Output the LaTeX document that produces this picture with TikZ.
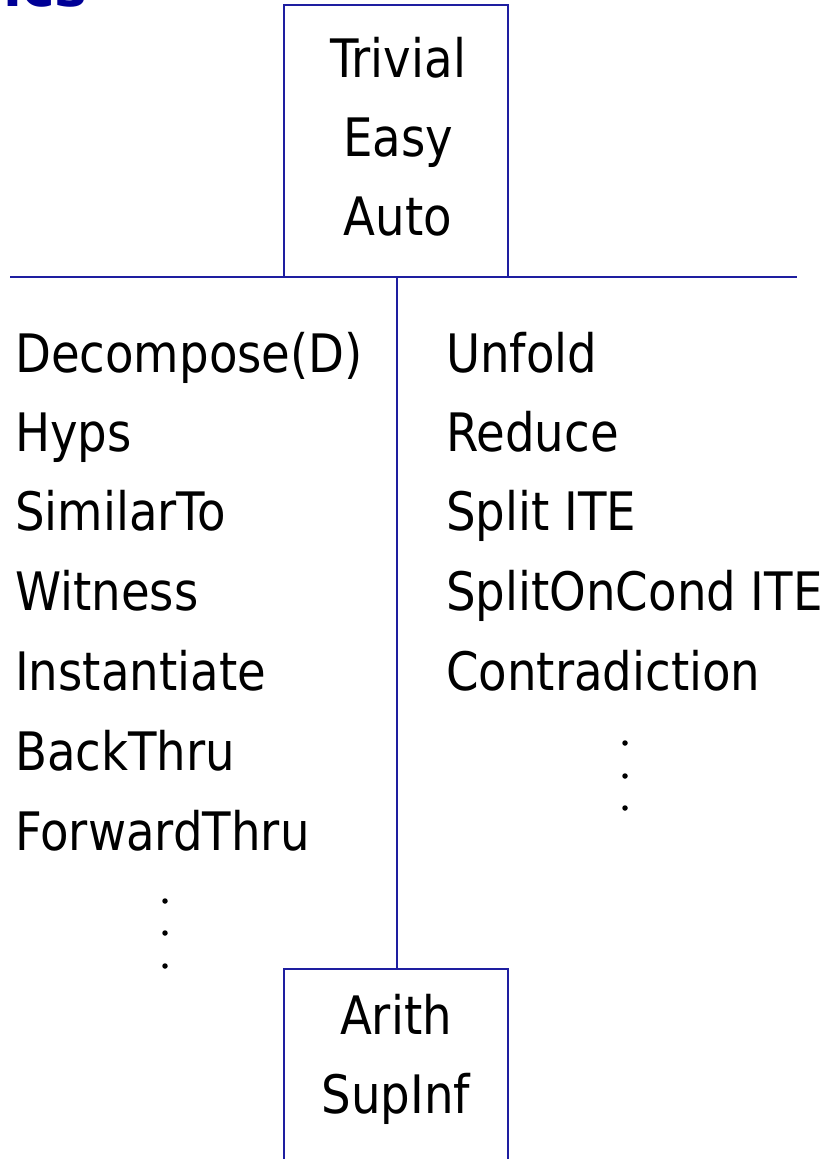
\documentclass[tikz,border=0pt]{standalone}
\usepackage{fontspec}
\newfontfamily\tah[FakeStretch=0.88]{DejaVu Sans}
\newfontfamily\tahb{DejaVu Sans Bold}
\definecolor{linecol}{RGB}{30,30,160}
\definecolor{titlecol}{RGB}{0,0,150}
\begin{document}
\begin{tikzpicture}[x=1pt,y=-1pt,
  lbl/.style={inner sep=0pt,font=\tah\fontsize{53}{60}\selectfont,text=black},
  boxst/.style={draw=linecol,line width=1.8pt,rectangle,inner sep=0pt},
  conn/.style={draw=linecol,line width=1.8pt},
  dotst/.style={circle,fill=black,inner sep=0pt,minimum size=5.5pt}]
\useasboundingbox (0,0) rectangle (838,1159);
% partial title
\node[inner sep=0pt,anchor=base west,font=\tahb\fontsize{55}{60}\selectfont,text=titlecol] (title) at (3,6) {ics};
% boxes
\node[boxst,minimum width=224pt,minimum height=272pt] (topbox) at (396,141) {};
\node[boxst,minimum width=224pt,minimum height=260pt] (botbox) at (396,1099) {};
% lines
\coordinate (hl) at (10,277);
\coordinate (hr) at (797,277);
\coordinate (junc) at (397,277);
\draw[conn] (hl) -- (hr);
\draw[conn] (junc) -- (junc |- botbox.north);
% top box text
\node[lbl,anchor=base] (trivial) at (398,77) {Trivial};
\node[lbl,anchor=base] (easy) at (398,156) {Easy};
\node[lbl,anchor=base] (auto) at (398,235) {Auto};
% bottom box text
\node[lbl,anchor=base] (arith) at (396,1034) {Arith};
\node[lbl,anchor=base] (supinf) at (396,1113) {SupInf};
% left column
\node[lbl,anchor=base west] (l1) at (15,372) {Decompose(D)};
\node[lbl,anchor=base west] (l2) at (15,451) {Hyps};
\node[lbl,anchor=base west] (l3) at (15,530) {SimilarTo};
\node[lbl,anchor=base west] (l4) at (15,610) {Witness};
\node[lbl,anchor=base west] (l5) at (15,690) {Instantiate};
\node[lbl,anchor=base west] (l6) at (15,770) {BackThru};
\node[lbl,anchor=base west] (l7) at (15,850) {ForwardThru};
\node[dotst] (ld1) at (165,901) {};
\node[dotst] (ld2) at (165,933) {};
\node[dotst] (ld3) at (165,966) {};
% right column
\node[lbl,anchor=base west] (r1) at (446,372) {Unfold};
\node[lbl,anchor=base west] (r2) at (446,451) {Reduce};
\node[lbl,anchor=base west] (r3) at (446,530) {Split ITE};
\node[lbl,anchor=base west] (r4) at (446,610) {SplitOnCond ITE};
\node[lbl,anchor=base west] (r5) at (446,690) {Contradiction};
\node[dotst] (rd1) at (625,743) {};
\node[dotst] (rd2) at (625,776) {};
\node[dotst] (rd3) at (625,808) {};
\end{tikzpicture}
\end{document}
